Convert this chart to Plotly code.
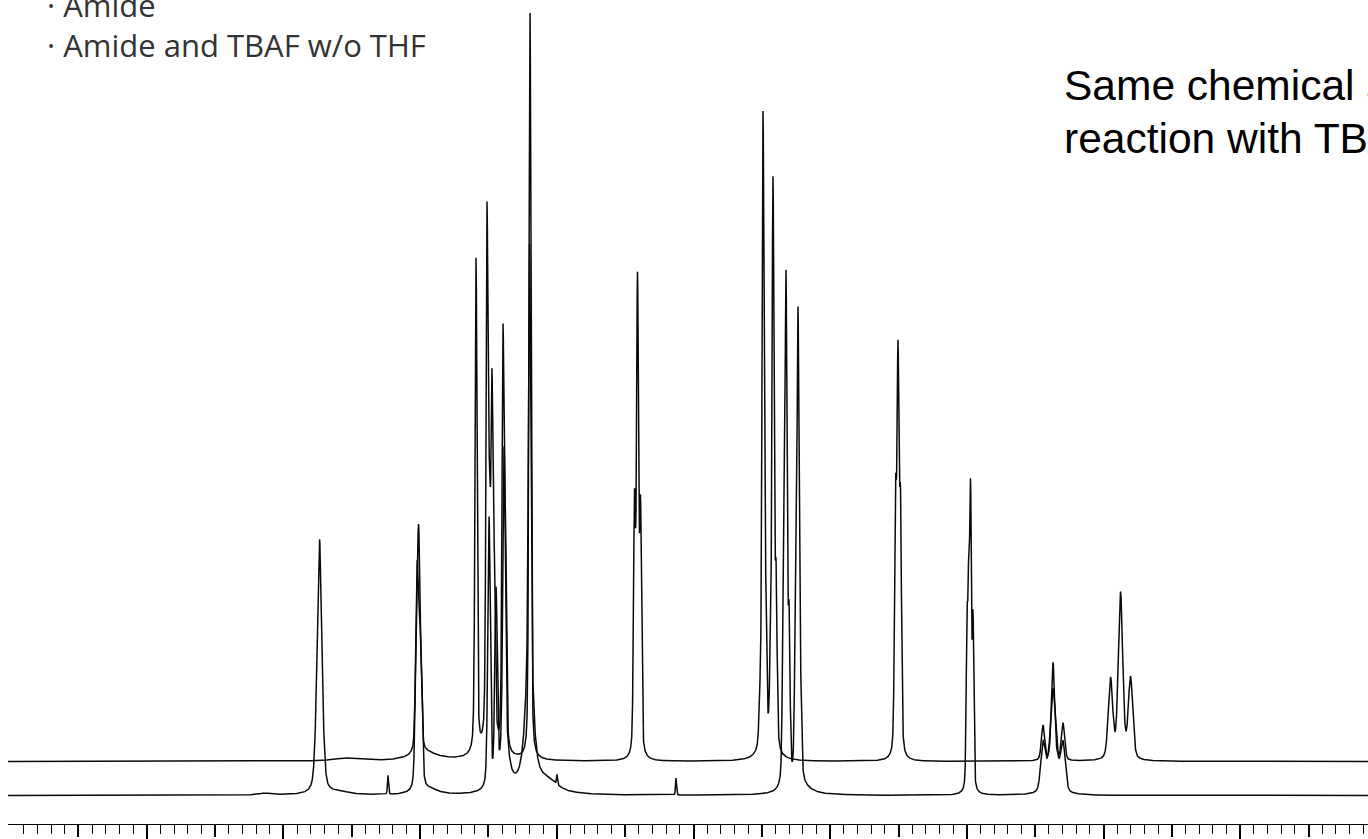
import numpy as np
import plotly.graph_objects as go

# ---------------- data ----------------
# chemical-shift window shown (ppm, reversed axis)
X_LEFT, X_RIGHT = 10.0146, 0.0658

# tick positions (no labels)
MAJOR_TICKS = [9, 8, 7, 6, 5, 4, 3, 2, 1]
MID_TICKS = [9.5, 8.5, 7.5, 6.5, 5.5, 4.5, 3.5, 2.5, 1.5, 0.5]
MINOR_TICKS = [round(9.9 - 0.1 * i, 1) for i in range(99)]

# vertical offsets of the two stacked spectra
AMIDE_BASE = 62.5
TBAF_BASE = 28.5

# upper spectrum: sharp lines (ppm, intensity, width ppm)
amide_pos = [7.0226, 7.0007, 6.5910, 6.5105, 6.4923, 6.4740, 6.4557, 6.3935, 6.3752,
             6.1960, 5.4315, 5.4096, 5.3876, 4.5135, 4.4915, 4.4732, 4.4366, 4.4184,
             4.3964, 3.5223, 3.5040, 3.4857, 2.4433, 2.3701, 2.2969, 1.9495, 1.8763,
             1.8032]
amide_int = [180, 110, 494, 518, 200, 335, 150, 408, 200,
             747, 243, 463, 237, 38, 627, 134, 66, 561,
             164, 244, 377, 234, 35, 98, 37, 80, 166,
             81]
amide_wid = [0.0095, 0.0095, 0.0073, 0.0073, 0.0073, 0.0073, 0.0073, 0.0073, 0.0073,
             0.0073, 0.0073, 0.0073, 0.0073, 0.0073, 0.0073, 0.0073, 0.0073, 0.0073,
             0.0073, 0.0073, 0.0073, 0.0073, 0.0117, 0.0117, 0.0117, 0.0161, 0.0161,
             0.0161]
# upper spectrum: broad humps (ppm, intensity, half-width ppm)
amide_hump_pos = [7.5493, 6.9641, 6.4886, 4.4623]
amide_hump_int = [3, 8, 12, 6]
amide_hump_wid = [0.1097, 0.1170, 0.0878, 0.0732]

# lower spectrum: sharp lines
tbaf_pos = [7.7359, 7.7344, 7.2348, 7.0263, 7.0102, 6.9933, 6.4959, 6.4447, 6.3862,
            6.1996, 5.9985, 5.1280, 4.3416, 4.3233, 4.3013, 4.2538, 4.2355, 4.2172,
            2.9992, 2.9860, 2.9729, 2.9553, 2.4433, 2.3701, 2.2969, 2.3701]
tbaf_int = [220, 36, 19, 145, 205, 95, 270, 190, 290,
            430, 10, 17, 197, 493, 155, 142, 457, 83,
            155, 190, 277, 165, 45, 60, 45, 45]
tbaf_wid = [0.0190, 0.0037, 0.0037, 0.0095, 0.0088, 0.0095, 0.0088, 0.0088, 0.0088,
            0.0080, 0.0037, 0.0037, 0.0073, 0.0073, 0.0073, 0.0073, 0.0073, 0.0073,
            0.0059, 0.0059, 0.0059, 0.0059, 0.0161, 0.0161, 0.0161, 0.0366]
# lower spectrum: broad humps
tbaf_hump_pos = [8.1345, 7.5859, 6.9275, 6.3789, 6.2179, 6.1887, 6.0643, 4.2209]
tbaf_hump_int = [2, 3, 5, 55, 55, 90, 12, 8]
tbaf_hump_wid = [0.0585, 0.0878, 0.0732, 0.0293, 0.0293, 0.0256, 0.0878, 0.0878]

LEGEND_LINES = ["· Amide", "· Amide and TBAF w/o THF"]
NOTE_LINES = ["Same chemical shift after", "reaction with TBAF"]

# ---------------- build spectra ----------------
x = np.linspace(X_LEFT, X_RIGHT, 14001)
ETA = 0.35  # Lorentzian share of each line (pseudo-Voigt)


def spectrum(base, pos, inten, wid, hpos, hint, hwid):
    y = np.full_like(x, base, dtype=float)
    for p, h, w in zip(pos, inten, wid):
        g = np.exp(-((x - p) ** 2) / (2 * w * w))
        gw = 1.2 * w
        lo = gw * gw / ((x - p) ** 2 + gw * gw)
        y += h * ((1 - ETA) * g + ETA * lo)
    for p, h, w in zip(hpos, hint, hwid):
        y += h * w * w / ((x - p) ** 2 + w * w)
    return y


y_amide = spectrum(AMIDE_BASE, amide_pos, amide_int, amide_wid,
                   amide_hump_pos, amide_hump_int, amide_hump_wid)
y_tbaf = spectrum(TBAF_BASE, tbaf_pos, tbaf_int, tbaf_wid,
                  tbaf_hump_pos, tbaf_hump_int, tbaf_hump_wid)

W, H = 1368, 839
ML, MB = 8, 15
PW, PH = W - ML, H - MB

fig = go.Figure()
line_style = dict(color="#0a0a0a", width=1.5)
fig.add_trace(go.Scatter(x=x, y=y_amide, mode="lines", line=line_style,
                         name=LEGEND_LINES[0], showlegend=False, hoverinfo="skip"))
fig.add_trace(go.Scatter(x=x, y=y_tbaf, mode="lines", line=line_style,
                         name=LEGEND_LINES[1], showlegend=False, hoverinfo="skip"))
# carrier for the mid-length tick axis
fig.add_trace(go.Scatter(x=[MID_TICKS[0]], y=[None], xaxis="x2", mode="lines",
                         showlegend=False, hoverinfo="skip"))


def px_to_paper_x(px):
    return (px - ML) / PW


def py_to_paper_y(py):
    return (PH - py) / PH


annotations = []
legend_font = dict(family="Open Sans", size=31, color="#333333")
for txt, mid in zip(LEGEND_LINES, [5, 45]):
    annotations.append(dict(text=txt, x=px_to_paper_x(45), y=py_to_paper_y(mid),
                            xref="paper", yref="paper", xanchor="left", yanchor="middle",
                            showarrow=False, font=legend_font))
note_font = dict(family="Liberation Sans, Arial, sans-serif", size=42.5, color="#000000")
for txt, mid in zip(NOTE_LINES, [85, 138]):
    annotations.append(dict(text=txt, x=px_to_paper_x(1062), y=py_to_paper_y(mid),
                            xref="paper", yref="paper", xanchor="left", yanchor="middle",
                            showarrow=False, font=note_font))

fig.update_layout(
    width=W, height=H,
    margin=dict(l=ML, r=0, t=0, b=MB, pad=0),
    paper_bgcolor="white", plot_bgcolor="white",
    showlegend=False,
    xaxis=dict(range=[X_LEFT, X_RIGHT], showgrid=False, zeroline=False,
               showline=True, linecolor="#000000", linewidth=1.4,
               ticks="outside", tickmode="array", tickvals=MAJOR_TICKS,
               ticklen=15, tickwidth=1.5, tickcolor="#000000",
               showticklabels=False,
               minor=dict(tickmode="array", tickvals=MINOR_TICKS, ticks="outside",
                          ticklen=9, tickwidth=1.4, tickcolor="#000000", showgrid=False)),
    xaxis2=dict(range=[X_LEFT, X_RIGHT], overlaying="x", anchor="y", side="bottom",
                showgrid=False, zeroline=False, showline=False,
                ticks="outside", tickmode="array", tickvals=MID_TICKS,
                ticklen=12, tickwidth=1.5, tickcolor="#000000", showticklabels=False),
    yaxis=dict(range=[0, PH], visible=False, showgrid=False, zeroline=False),
    annotations=annotations,
)

fig.write_html("out.html", config={"displayModeBar": False},
               post_script="document.body.style.margin='0px';document.body.style.overflow='hidden';")
